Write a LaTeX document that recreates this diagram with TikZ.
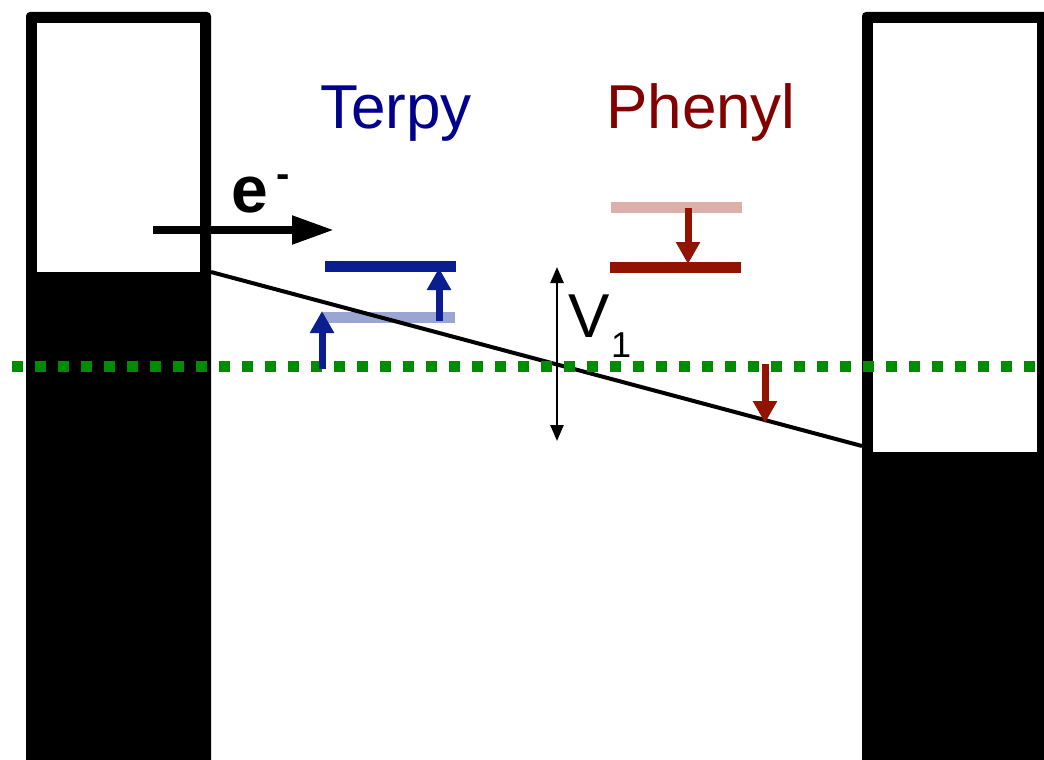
\documentclass[tikz,border=0pt]{standalone}
\usepackage{fontspec}
\setmainfont{Liberation Sans}
\usetikzlibrary{arrows.meta}
\definecolor{terpyblue}{RGB}{0,0,140}
\definecolor{lvlblue}{RGB}{10,30,145}
\definecolor{lvlbluelight}{RGB}{155,165,212}
\definecolor{phenred}{RGB}{130,0,0}
\definecolor{lvlred}{RGB}{145,20,0}
\definecolor{lvlredlight}{RGB}{220,175,170}
\definecolor{fermigreen}{RGB}{0,140,0}
\tikzset{
  level/.style={line width=11pt},
  uparrow/.style={line width=7pt,-{Triangle[length=22pt,width=23pt]}},
  biglabel/.style={inner sep=0pt,font=\fontsize{62}{62}\selectfont,anchor=base west},
}
\begin{document}
\begin{tikzpicture}[x=1pt,y=-1pt]
\useasboundingbox (0,0) rectangle (1044,760);
\clip (0,0) rectangle (1044,760);
% electrodes
\fill[black,rounded corners=4pt] (26,12) rectangle (211,790);
\fill[white] (37,23) rectangle (200,272);
\fill[black,rounded corners=4pt] (862,12) rectangle (1060,790);
\fill[white] (873,23) rectangle (1037,452);
% potential slope
\coordinate (sL) at (211,272);
\coordinate (sR) at (862,446);
% light levels
\coordinate (tl1) at (323,317); \coordinate (tl2) at (455,317);
\draw[level,lvlbluelight] (tl1) -- (tl2);
\draw[line width=4pt] (sL) -- (sR);
% Fermi level
\coordinate (fL) at (12,366); \coordinate (fR) at (1044,366);
\draw[fermigreen,line width=11pt,dash pattern=on 11pt off 12pt] (fL) -- (fR);
% terpy levels
\coordinate (td1) at (325,266); \coordinate (td2) at (456,266);
\draw[level,lvlblue] (td1) -- (td2);
\coordinate (ba1) at (322,369); \coordinate (ba1t) at (322,311);
\draw[uparrow,lvlblue] (ba1) -- (ba1t);
\coordinate (ba2) at (439,321); \coordinate (ba2t) at (439,268);
\draw[uparrow,lvlblue] (ba2) -- (ba2t);
% phenyl levels
\coordinate (pl1) at (611,207); \coordinate (pl2) at (742,207);
\draw[level,lvlredlight] (pl1) -- (pl2);
\coordinate (pd1) at (610,267); \coordinate (pd2) at (741,267);
\draw[level,lvlred] (pd1) -- (pd2);
\coordinate (ra1) at (688,208); \coordinate (ra1t) at (688,264);
\draw[uparrow,lvlred] (ra1) -- (ra1t);
\coordinate (ra2) at (765,364); \coordinate (ra2t) at (765,423);
\draw[uparrow,lvlred] (ra2) -- (ra2t);
% electron arrow
\coordinate (eS) at (153,230); \coordinate (eE) at (334,230);
\draw[line width=8pt,-{Triangle[length=42pt,width=27pt]}] (eS) -- (eE);
\node[inner sep=0pt,anchor=base west,font=\bfseries\fontsize{66}{66}\selectfont] (elab) at (231,212) {e\kern9pt\raisebox{25pt}{\fontsize{40}{40}\selectfont -}};
% V1
\coordinate (v1a) at (557,267); \coordinate (v1b) at (557,441);
\draw[line width=2.5pt,{Triangle[length=16pt,width=13pt]}-{Triangle[length=16pt,width=13pt]}] (v1a) -- (v1b);
\node[biglabel] (vlab) at (568,337) {V};
\node[inner sep=0pt,anchor=base west,font=\fontsize{36}{36}\selectfont] (vsub) at (611,357) {1};
% labels
\node[biglabel,text=terpyblue] (terpy) at (320,128) {Terpy};
\node[biglabel,text=phenred] (phenyl) at (606,128) {Phenyl};
\end{tikzpicture}
\end{document}
